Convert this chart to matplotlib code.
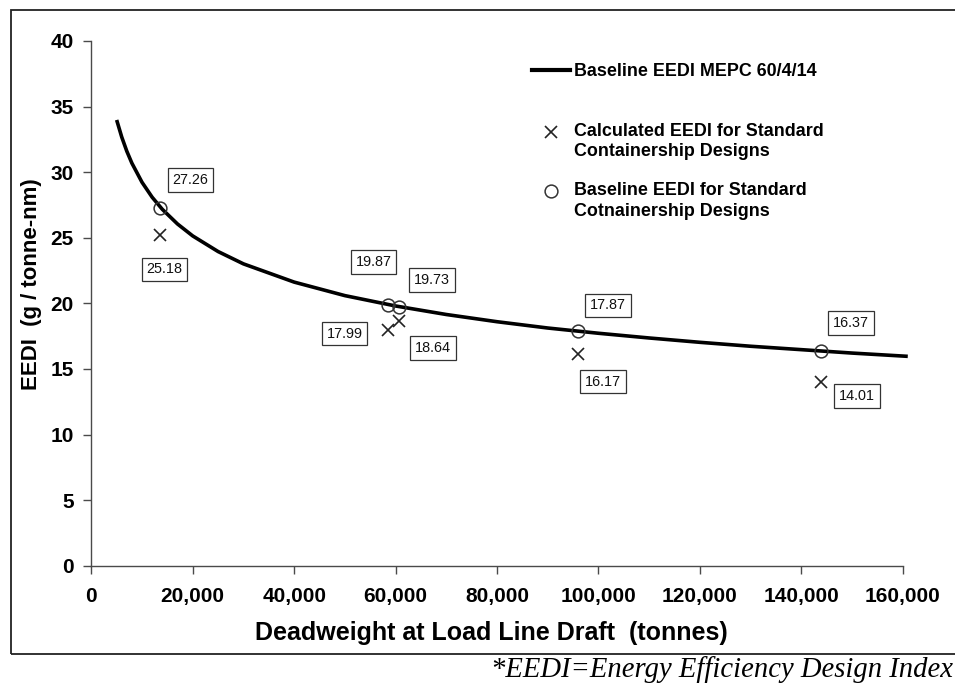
import matplotlib
matplotlib.use("Agg")
import matplotlib.pyplot as plt
from matplotlib.lines import Line2D
from matplotlib.patches import Rectangle
from matplotlib.ticker import FuncFormatter

# Baseline reference line (deadweight, EEDI)
curve_dwt = [5000, 6000, 7000, 8000, 10000, 12000, 14000, 17000, 20000, 25000,
             30000, 40000, 50000, 60000, 70000, 80000, 90000, 100000, 110000,
             120000, 130000, 140000, 150000, 161000]
curve_eedi = [33.98, 32.68, 31.60, 30.69, 29.23, 28.09, 27.17, 26.05, 25.14, 23.95,
              23.01, 21.62, 20.59, 19.80, 19.15, 18.60, 18.12, 17.72, 17.36,
              17.03, 16.73, 16.47, 16.21, 15.96]

# Standard containership designs
design_dwt = [13600, 58600, 60700, 96000, 143900]
baseline_eedi = [27.26, 19.87, 19.73, 17.87, 16.37]
calculated_eedi = [25.18, 17.99, 18.64, 16.17, 14.01]

x_ticks = [0, 20000, 40000, 60000, 80000, 100000, 120000, 140000, 160000]
y_ticks = [0, 5, 10, 15, 20, 25, 30, 35, 40]

legend_labels = ["Baseline EEDI MEPC 60/4/14",
                 ["Calculated EEDI for Standard", "Containership Designs"],
                 ["Baseline EEDI for Standard", "Cotnainership Designs"]]
x_title = "Deadweight at Load Line Draft  (tonnes)"
y_title = "EEDI  (g / tonne-nm)"
footnote = "*EEDI=Energy Efficiency Design Index"

W, H = 955, 687
plt.rcParams["font.family"] = ["Liberation Sans", "DejaVu Sans"]

fig = plt.figure(figsize=(W / 100, H / 100), dpi=100)
ax = fig.add_axes([91.3 / W, 1 - 565.7 / H, (902.7 - 91.3) / W, (565.7 - 41.0) / H])


def fx(px):
    return px / W


def fy(py):
    return 1 - py / H


axis_col = "#4a4a4a"
ax.plot(curve_dwt, curve_eedi, color="black", lw=2.6, solid_capstyle="butt",
        clip_on=False, zorder=3)
ax.plot(design_dwt, baseline_eedi, linestyle="none", marker="o", ms=9.2,
        mfc="none", mec="#333333", mew=1.1, zorder=4)
ax.plot(design_dwt, calculated_eedi, linestyle="none", marker="x", ms=9.0,
        mec="#222222", mew=1.2, zorder=4)

# value boxes: offsets in pixels from each marker
base_offsets = [(30, 28), (-15, 43), (33, 27), (30, 26), (30, 28)]
calc_offsets = [(4, -34), (-44, -4), (34, -27), (25, -28), (36, -14)]
box = dict(boxstyle="square,pad=0.33", fc="white", ec="#333333", lw=0.9)
for xv, yv, off in zip(design_dwt, baseline_eedi, base_offsets):
    ax.annotate(f"{yv:.2f}", (xv, yv), xytext=off, textcoords="offset pixels",
                ha="center", va="center", fontsize=10.4, color="#111111", bbox=box,
                zorder=5)
for xv, yv, off in zip(design_dwt, calculated_eedi, calc_offsets):
    ax.annotate(f"{yv:.2f}", (xv, yv), xytext=off, textcoords="offset pixels",
                ha="center", va="center", fontsize=10.4, color="#111111", bbox=box,
                zorder=5)

ax.set_xlim(0, 160000)
ax.set_ylim(0, 40)
ax.set_xticks(x_ticks)
ax.set_yticks(y_ticks)
ax.xaxis.set_major_formatter(FuncFormatter(lambda v, p: f"{int(v):,}"))
for s in ("top", "right"):
    ax.spines[s].set_visible(False)
for s in ("left", "bottom"):
    ax.spines[s].set_color(axis_col)
    ax.spines[s].set_linewidth(1.0)
ax.tick_params(axis="both", direction="out", length=5.5, width=1.0, color=axis_col,
               labelsize=15, labelcolor="black")
ax.tick_params(axis="x", pad=10)
ax.tick_params(axis="y", pad=7)
for lab in ax.get_xticklabels() + ax.get_yticklabels():
    lab.set_fontweight("bold")

fig.text(fx(491.5), fy(633), x_title, ha="center", va="center", fontsize=18,
         fontweight="bold")
fig.text(fx(31), fy(284), y_title, ha="center", va="center", fontsize=16,
         fontweight="bold", rotation=90)

# legend, drawn by hand
fig.add_artist(Line2D([fx(531.7), fx(570)], [fy(70), fy(70)], color="black",
                      lw=3.0, transform=fig.transFigure))
fig.add_artist(Line2D([fx(550.7)], [fy(131.7)], marker="x", ms=9.0, mec="#222222",
                      mew=1.2, linestyle="none", transform=fig.transFigure))
fig.add_artist(Line2D([fx(550.7)], [fy(190.7)], marker="o", ms=9.2, mfc="none",
                      mec="#333333", mew=1.1, linestyle="none",
                      transform=fig.transFigure))
leg_kw = dict(ha="left", va="center", fontsize=12.9, fontweight="bold")
fig.text(fx(574), fy(71.5), legend_labels[0], **leg_kw)
fig.text(fx(574), fy(131.7), legend_labels[1][0], **leg_kw)
fig.text(fx(574), fy(151.7), legend_labels[1][1], **leg_kw)
fig.text(fx(574), fy(190.7), legend_labels[2][0], **leg_kw)
fig.text(fx(574), fy(211.7), legend_labels[2][1], **leg_kw)

# outer frame around the chart
fig.add_artist(Rectangle((fx(11), fy(654)), fx(1000), fy(10) - fy(654), fill=False,
                         ec="#222222", lw=1.3, transform=fig.transFigure))

fig.text(fx(953), fy(677), footnote, ha="right", va="baseline", fontsize=20.6,
         family=["Liberation Serif", "DejaVu Serif"], style="italic")

fig.savefig("out.png", dpi=100)
